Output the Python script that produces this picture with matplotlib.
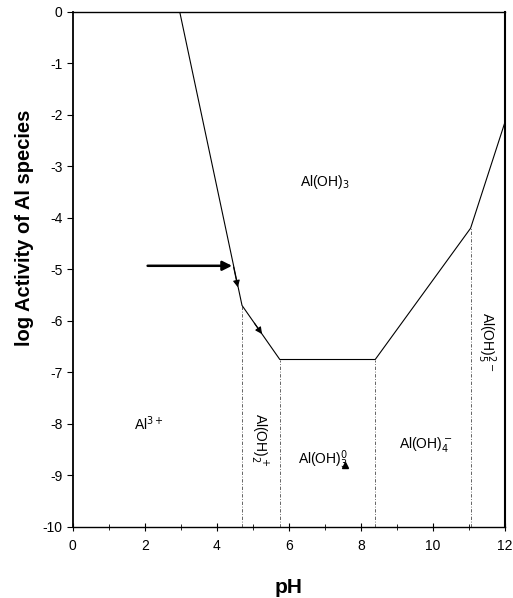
import matplotlib
matplotlib.use("Agg")
import matplotlib.pyplot as plt

plt.rcParams['font.family'] = ['Liberation Sans', 'DejaVu Sans']
plt.rcParams['axes.unicode_minus'] = False

# gibbsite solubility boundary (pH, log activity)
boundary_ph = [2.97, 4.7, 5.75, 8.4, 11.05, 12.0]
boundary_log = [0.0, -5.7, -6.75, -6.75, -4.2, -2.15]

# species field borders
border_ph = [4.7, 5.75, 8.4, 11.05]
border_top = [-5.7, -6.75, -6.75, -4.2]

fig = plt.figure(figsize=(5.13, 5.98), dpi=100)
ax = fig.add_axes([0.142, 0.119, 0.842, 0.861])

ax.plot(boundary_ph, boundary_log, color='black', lw=0.8)
for x, top in zip(border_ph, border_top):
    ax.plot([x, x], [-10, top], color='black', lw=0.6, ls=(0, (4, 2, 1, 2)), alpha=0.7)

# arrows
ax.annotate('', xy=(4.5, -4.93), xytext=(2.0, -4.93),
            arrowprops=dict(arrowstyle='-|>', color='black', lw=1.8, mutation_scale=14))
ax.annotate('', xy=(4.6, -5.4), xytext=(4.45, -4.9),
            arrowprops=dict(arrowstyle='-|>', color='black', lw=0.8, mutation_scale=10))
ax.annotate('', xy=(5.3, -6.3), xytext=(5.0, -6.0),
            arrowprops=dict(arrowstyle='-|>', color='black', lw=0.8, mutation_scale=10))

ax.plot([7.55], [-8.8], marker='^', color='black', ms=5)

fs = 10
ax.text(7.0, -3.3, r'Al(OH)$_3$', fontsize=fs, ha='center', va='center')
ax.text(2.1, -8.0, r'Al$^{3+}$', fontsize=fs, ha='center', va='center')
ax.text(5.15, -8.3, r'Al(OH)$_2^+$', fontsize=fs, ha='center', va='center', rotation=-90)
ax.text(6.95, -8.7, r'Al(OH)$_3^0$', fontsize=fs, ha='center', va='center')
ax.text(9.8, -8.4, r'Al(OH)$_4^-$', fontsize=fs, ha='center', va='center')
ax.text(11.5, -6.4, r'Al(OH)$_5^{2-}$', fontsize=fs, ha='center', va='center', rotation=-90)

ax.set_xlim(0, 12)
ax.set_ylim(-10, 0)
ax.set_xticks(range(0, 13, 2))
ax.set_xticks(range(0, 13, 1), minor=True)
ax.set_yticks(range(-10, 1, 1))
ax.tick_params(axis='x', which='both', direction='inout', length=6, labelsize=10, pad=6)
ax.tick_params(axis='x', which='minor', length=4)
ax.tick_params(axis='y', direction='out', length=4, labelsize=10)
for s in ax.spines.values():
    s.set_linewidth(1.0)
ax.spines['right'].set_linewidth(1.5)
ax.spines['left'].set_linewidth(1.3)

ax.set_xlabel('pH', fontsize=15, fontweight='bold')
ax.xaxis.set_label_coords(0.5, -0.1)
ax.set_ylabel('log Activity of Al species', fontsize=14.5, fontweight='bold')
ax.yaxis.set_label_coords(-0.09, 0.58)

fig.savefig('out.png', dpi=100)
